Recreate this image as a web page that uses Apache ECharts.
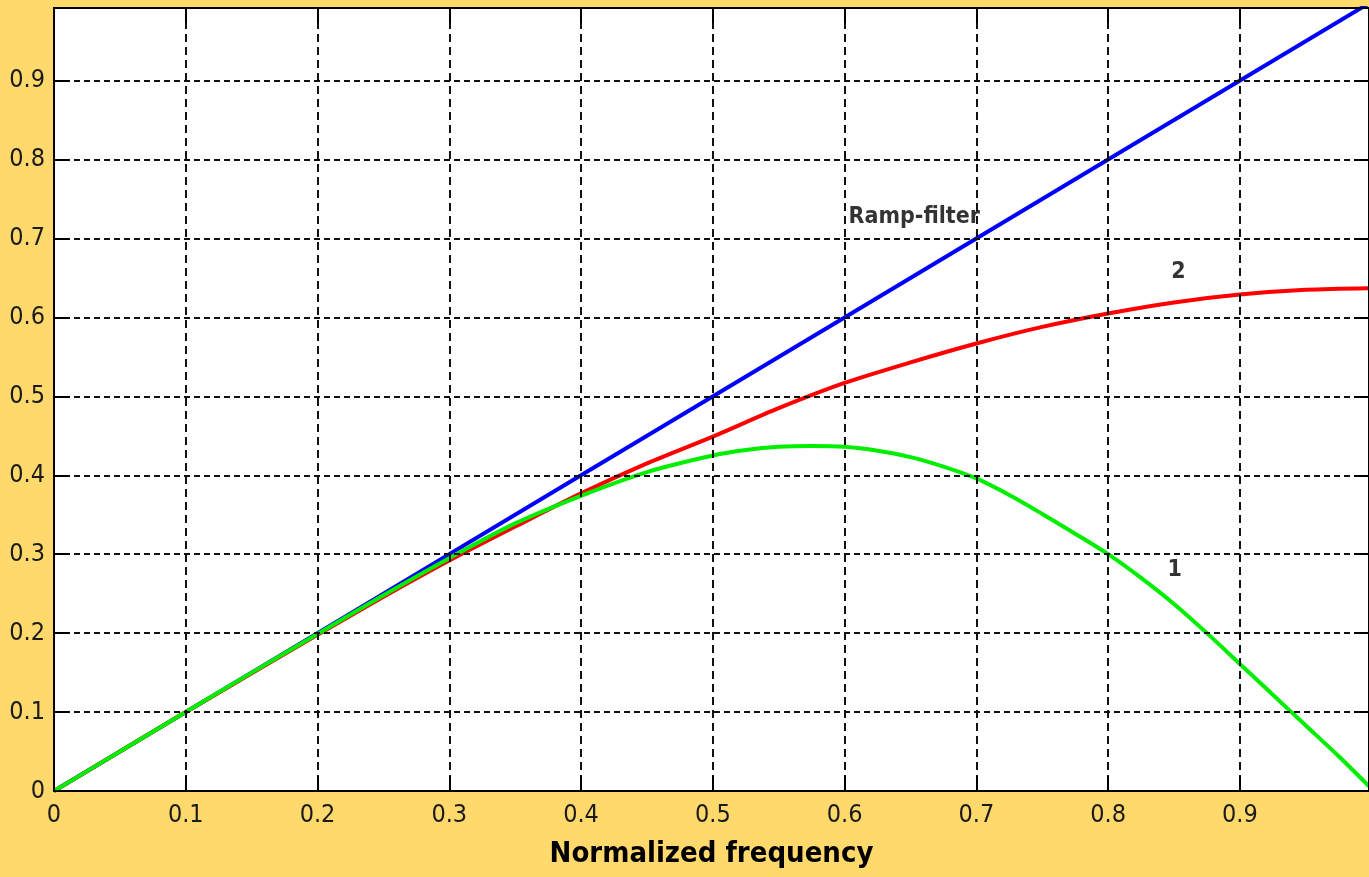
<!DOCTYPE html>
<html>
<head>
<meta charset="utf-8">
<script src="https://cdn.jsdelivr.net/npm/echarts@6/dist/echarts.min.js"></script>
<style>
  html, body { margin: 0; padding: 0; background: #ffd96b; }
  #chart { width: 1369px; height: 877px; }
</style>
</head>
<body>
<div id="chart"></div>
<script>
// Frequency responses of reconstruction filters
const rampFreq = [0, 0.2, 0.4, 0.6, 0.8, 1.0];
const rampResp = [0, 0.2, 0.4, 0.6, 0.8, 1.0];

const filter2Freq = [0, 0.05, 0.1, 0.15, 0.2, 0.25, 0.3, 0.35, 0.4, 0.45, 0.5, 0.55, 0.6, 0.65, 0.7, 0.75, 0.8, 0.85, 0.9, 0.95, 0.998];
const filter2Resp = [0, 0.05, 0.1, 0.149, 0.198, 0.246, 0.292, 0.335, 0.377, 0.415, 0.449, 0.485, 0.517, 0.543, 0.567, 0.588, 0.605, 0.619, 0.629, 0.635, 0.637];

const filter1Freq = [0, 0.05, 0.1, 0.15, 0.2, 0.25, 0.3, 0.35, 0.4, 0.45, 0.5, 0.525, 0.55, 0.575, 0.6, 0.625, 0.65, 0.675, 0.7, 0.725, 0.75, 0.775, 0.8, 0.825, 0.85, 0.875, 0.9, 0.925, 0.95, 0.975, 0.998];
const filter1Resp = [0, 0.05, 0.1, 0.15, 0.199, 0.248, 0.295, 0.339, 0.374, 0.404, 0.425, 0.432, 0.436, 0.437, 0.436, 0.431, 0.423, 0.411, 0.396, 0.375, 0.351, 0.326, 0.300, 0.270, 0.237, 0.200, 0.161, 0.122, 0.083, 0.044, 0.006];

// Curve annotations: text, frequency, response
const noteText = ['Ramp-filter', '2', '1'];
const noteFreq = [0.603, 0.848, 0.845];
const noteResp = [0.7275, 0.658, 0.28];

const xTickStep = 0.1;
const yTickStep = 0.1;

function pairs(xs, ys) { return xs.map((x, i) => [x, ys[i]]); }

const tickFont = "'Liberation Sans Narrow', 'Arial Narrow', 'DejaVu Sans Condensed', sans-serif";
const gridDark = '#111111';

const chart = echarts.init(document.getElementById('chart'));

const baseX = {
  type: 'value', min: 0, max: 0.998, interval: xTickStep,
  z: 5,
  axisLine: { show: true, onZero: false, lineStyle: { color: '#000', width: 2 } },
  axisTick: { show: true, inside: true, length: 15, lineStyle: { color: '#000', width: 2 } }
};
const baseY = {
  type: 'value', min: 0, max: 0.992, interval: yTickStep,
  z: 5,
  axisLine: { show: true, onZero: false, lineStyle: { color: '#000', width: 2 } },
  axisTick: { show: true, inside: true, length: 15, lineStyle: { color: '#000', width: 2 } }
};

const tickLabel = {
  show: true, fontFamily: tickFont, fontSize: 25, color: '#1a1a1a',
  showMaxLabel: false,
  formatter: v => (Math.round(v * 10) / 10).toString()
};

chart.setOption({
  animation: false,
  backgroundColor: '#ffd96b',
  grid: {
    left: 54, top: 8, right: -3, bottom: 86,
    show: true, backgroundColor: '#ffffff', borderColor: '#000', borderWidth: 2
  },
  xAxis: [
    Object.assign({}, baseX, {
      position: 'bottom',
      name: 'Normalized frequency',
      nameLocation: 'middle',
      nameGap: 49,
      nameTextStyle: { fontFamily: tickFont, fontWeight: 'bold', fontSize: 29, color: '#000' },
      axisLabel: Object.assign({}, tickLabel, { margin: 12 }),
      splitLine: { show: true, lineStyle: { color: gridDark, width: 2, type: [8, 5] } }
    }),
    Object.assign({}, baseX, {
      position: 'top',
      axisLabel: { show: false },
      splitLine: { show: false }
    })
  ],
  yAxis: [
    Object.assign({}, baseY, {
      position: 'left',
      axisLabel: Object.assign({}, tickLabel, { margin: 9 }),
      splitLine: { show: true, lineStyle: { color: gridDark, width: 2, type: [6, 4] } }
    }),
    Object.assign({}, baseY, {
      position: 'right',
      axisLabel: { show: false },
      splitLine: { show: false }
    })
  ],
  series: [
    {
      name: 'Ramp-filter', type: 'line', data: pairs(rampFreq, rampResp),
      showSymbol: false, clip: true, z: 3,
      lineStyle: { color: '#0000ff', width: 4 }
    },
    {
      name: '2', type: 'line', data: pairs(filter2Freq, filter2Resp),
      showSymbol: false, smooth: 0.3, clip: true, z: 3,
      lineStyle: { color: '#ff0000', width: 4 }
    },
    {
      name: '1', type: 'line', data: pairs(filter1Freq, filter1Resp),
      showSymbol: false, smooth: 0.3, clip: true, z: 3,
      lineStyle: { color: '#00ee00', width: 4 }
    },
    {
      name: 'notes', type: 'scatter', silent: true, symbolSize: 0, z: 4,
      data: noteText.map((t, i) => ({ value: [noteFreq[i], noteResp[i]], name: t })),
      label: {
        show: true, position: 'right', distance: 0,
        formatter: p => p.name,
        fontFamily: tickFont, fontWeight: 'bold', fontSize: 23, color: '#000000'
      }
    }
  ]
});
</script>
</body>
</html>
